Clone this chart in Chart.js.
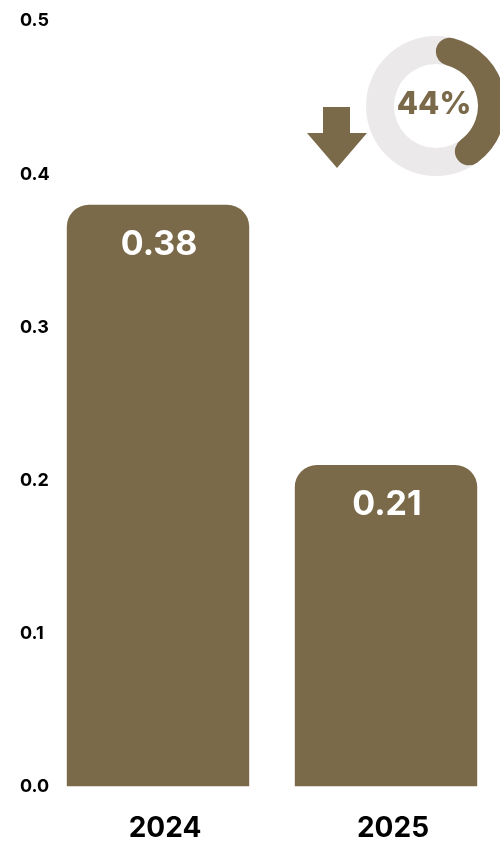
<!DOCTYPE html>
<html>
<head>
<meta charset="utf-8">
<script src="https://cdn.jsdelivr.net/npm/chart.js@4.4.1/dist/chart.umd.min.js"></script>
<style>
  html, body { margin: 0; padding: 0; background: #fff; overflow: hidden; }
  #wrap { position: relative; width: 500px; height: 842px; overflow: hidden; }
  #barras { position: absolute; left: 0; top: 0; }
  #rosca { position: absolute; left: 366px; top: 36px; }
</style>
</head>
<body>
<div id="wrap">
  <canvas id="barras" width="500" height="842"></canvas>
  <canvas id="rosca" width="140" height="140"></canvas>
</div>
<script>
// dados
const anos = ['2024', '2025'];
const valores = [0.38, 0.21];
const reducaoPct = [44, 56];
const reducaoTexto = '44%';

const MARROM = '#7b6a4a';
const CINZA = '#ebe9ea';
const FONTE = 'Inter, "Open Sans", sans-serif';

// rótulos brancos dentro das barras + seta decorativa
const pluginBarras = {
  id: 'pluginBarras',
  afterDatasetsDraw(chart) {
    const ctx = chart.ctx;
    const meta = chart.getDatasetMeta(0);
    ctx.save();
    ctx.fillStyle = '#fff';
    ctx.font = '700 34px ' + FONTE;
    ctx.textAlign = 'center';
    ctx.textBaseline = 'middle';
    meta.data.forEach((bar, i) => {
      ctx.fillText(valores[i].toFixed(2), bar.x + 1, bar.y + 40);
    });
    // seta para baixo
    ctx.fillStyle = MARROM;
    ctx.beginPath();
    ctx.moveTo(323, 107);
    ctx.lineTo(350, 107);
    ctx.lineTo(350, 133);
    ctx.lineTo(367, 133);
    ctx.lineTo(337, 168);
    ctx.lineTo(307, 133);
    ctx.lineTo(323, 133);
    ctx.closePath();
    ctx.fill();
    ctx.restore();
  }
};

new Chart(document.getElementById('barras'), {
  type: 'bar',
  data: {
    labels: anos,
    datasets: [{
      data: valores,
      backgroundColor: MARROM,
      borderRadius: { topLeft: 22, topRight: 22 },
      borderSkipped: 'bottom',
      barPercentage: 0.8,
      categoryPercentage: 1
    }]
  },
  options: {
    responsive: false,
    animation: false,
    layout: { padding: { top: 21, right: 0, left: 0, bottom: 0 } },
    plugins: { legend: { display: false }, tooltip: { enabled: false } },
    scales: {
      x: {
        afterFit(scale) { scale.height = 55.5; },
        grid: { display: false, drawTicks: false },
        border: { display: false },
        ticks: {
          color: '#000',
          padding: 25,
          labelOffset: 7,
          font: { family: FONTE, size: 28, weight: '700' }
        }
      },
      y: {
        min: 0,
        max: 0.5,
        afterFit(scale) { scale.width = 44; },
        grid: { display: false, drawTicks: false },
        border: { display: false },
        ticks: {
          stepSize: 0.1,
          mirror: true,
          color: '#000',
          padding: -24,
          font: { family: FONTE, size: 18, weight: '700' },
          callback: v => Number(v).toFixed(1)
        }
      }
    }
  },
  plugins: [pluginBarras]
});

// anel cinza completo sob o arco + texto central
const pluginRosca = {
  id: 'pluginRosca',
  beforeDatasetsDraw(chart) {
    const arc = chart.getDatasetMeta(0).data[0];
    const ctx = chart.ctx;
    ctx.save();
    ctx.beginPath();
    ctx.arc(arc.x, arc.y, arc.outerRadius, 0, Math.PI * 2);
    ctx.arc(arc.x, arc.y, arc.innerRadius, 0, Math.PI * 2, true);
    ctx.fillStyle = CINZA;
    ctx.fill('evenodd');
    ctx.restore();
  },
  afterDatasetsDraw(chart) {
    const arc = chart.getDatasetMeta(0).data[0];
    const ctx = chart.ctx;
    ctx.save();
    ctx.fillStyle = MARROM;
    ctx.font = '800 31px ' + FONTE;
    ctx.textAlign = 'center';
    ctx.textBaseline = 'middle';
    ctx.fillText(reducaoTexto, arc.x - 2, arc.y - 1);
    ctx.restore();
  }
};

new Chart(document.getElementById('rosca'), {
  type: 'doughnut',
  data: {
    datasets: [{
      data: reducaoPct,
      backgroundColor: [MARROM, 'rgba(0,0,0,0)'],
      borderWidth: 0,
      borderRadius: [{ outerStart: 14, outerEnd: 14, innerStart: 14, innerEnd: 14 }, 0]
    }]
  },
  options: {
    responsive: false,
    animation: false,
    cutout: '60%',
    plugins: { legend: { display: false }, tooltip: { enabled: false } }
  },
  plugins: [pluginRosca]
});
</script>
</body>
</html>
